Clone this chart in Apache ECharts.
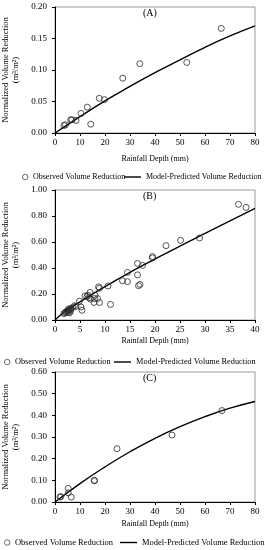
<!DOCTYPE html>
<html>
<head>
<meta charset="utf-8">
<script src="https://cdn.jsdelivr.net/npm/echarts@6/dist/echarts.min.js"></script>
<style>
html,body{margin:0;padding:0;background:#fff;}
#chart{width:265px;height:550px;}
</style>
</head>
<body>
<div id="chart"></div>
<script>
// ---- Data ----
const panelLabels = ['(A)', '(B)', '(C)'];
const obsName = 'Observed Volume Reduction';
const modelName = 'Model-Predicted Volume Reduction';
const xTitle = 'Rainfall Depth (mm)';
const yTitle = 'Normalized Volume Reduction\n(m³/m²)';

// Panel A
const obsA = [[3.6,0.012],[4.2,0.013],[6.3,0.021],[6.8,0.021],[8.4,0.020],[10.4,0.031],[12.9,0.041],
  [14.3,0.014],[17.7,0.055],[19.8,0.053],[27.1,0.087],[33.9,0.110],[52.7,0.112],[66.5,0.166]];
const modelAx = [0,10,20,30,40,50,60,70,80];
const modelAy = [0,0.026,0.051,0.074,0.096,0.116,0.136,0.154,0.170];

// Panel B
const obsB = [[1.8,0.050],[2.0,0.055],[2.2,0.060],[2.3,0.066],[2.5,0.070],[2.6,0.058],[2.7,0.085],
  [2.8,0.075],[3.0,0.080],[3.1,0.068],[3.2,0.090],[3.5,0.095],[2.9,0.055],[3.9,0.110],[4.2,0.105],
  [4.9,0.145],[5.2,0.100],[5.4,0.075],[6.0,0.185],[6.4,0.180],[6.6,0.190],[7.0,0.212],[7.1,0.160],
  [6.8,0.172],[7.8,0.135],[7.9,0.165],[8.0,0.190],[8.5,0.165],[8.7,0.255],[8.9,0.245],[8.9,0.135],
  [10.6,0.262],[11.1,0.120],[13.5,0.302],[14.5,0.366],[14.5,0.295],[16.5,0.435],[16.5,0.347],
  [16.7,0.264],[17.0,0.274],[17.5,0.420],[19.5,0.488],[19.5,0.478],[22.2,0.572],[25.1,0.613],
  [28.9,0.631],[36.7,0.890],[38.2,0.866]];
const modelBx = [0,1,2,5,10,15,20,25,30,35,40];
const modelBy = [0,0.035,0.064,0.140,0.257,0.366,0.469,0.569,0.666,0.763,0.858];

// Panel C
const obsC = [[2.0,0.023],[2.3,0.025],[5.3,0.063],[5.3,0.042],[6.5,0.023],[15.7,0.100],[15.8,0.098],
  [24.8,0.246],[46.8,0.309],[66.8,0.422]];
const modelCx = [0,10,20,30,40,50,60,70,80];
const modelCy = [0,0.085,0.162,0.232,0.294,0.348,0.394,0.433,0.464];

// Axis ranges / ticks
const xMax = [80, 40, 80];
const xStep = [10, 5, 10];
const yMax = [0.20, 1.00, 0.60];
const yStep = [0.05, 0.20, 0.10];

// ---- Layout ----
const FONT = '"Liberation Serif", "Times New Roman", serif';
const grids = [
  {left:55, top:7, width:200, height:126},
  {left:55, top:190, width:200, height:130},
  {left:55, top:372, width:200, height:130}
];
const xNameGap = [22, 17, 18];
const legendTop = [173, 358, 538];
const legendFont = [8, 8.3, 8.5];
const legendObsLeft = [22, 4, 4];
const legendModelLeft = [124, 114, 120];

const obsSets = [obsA, obsB, obsC];
const modelSets = [[modelAx, modelAy],[modelBx, modelBy],[modelCx, modelCy]];

const option = {
  backgroundColor:'#fff',
  animation:false,
  textStyle:{fontFamily:FONT, color:'#000'},
  title:[], grid:[], xAxis:[], yAxis:[], legend:[], series:[]
};

for (let i=0;i<3;i++){
  const g = grids[i];
  option.grid.push({left:g.left, top:g.top, width:g.width, height:g.height,
    show:true, borderColor:'#9a9a9a', borderWidth:1, containLabel:false, outerBoundsMode:'none'});
  option.title.push({text:panelLabels[i], left:g.left+88, top:g.top+1, padding:0,
    textStyle:{fontFamily:FONT, fontSize:10, fontWeight:'normal', color:'#000'}});
  option.xAxis.push({type:'value', gridIndex:i, min:0, max:xMax[i], interval:xStep[i],
    name:xTitle, nameLocation:'middle', nameGap:xNameGap[i],
    nameTextStyle:{fontFamily:FONT, fontSize:8, color:'#000'},
    axisLine:{show:true, onZero:false, lineStyle:{color:'#000', width:1}},
    axisTick:{show:true, length:3, lineStyle:{color:'#000'}},
    axisLabel:{fontFamily:FONT, fontSize:9, color:'#000', margin:5},
    splitLine:{show:false}});
  option.yAxis.push({type:'value', gridIndex:i, min:0, max:yMax[i], interval:yStep[i],
    name:yTitle, nameLocation:'middle', nameGap:26,
    nameTextStyle:{fontFamily:FONT, fontSize:8.5, color:'#000', lineHeight:10},
    axisLine:{show:true, onZero:false, lineStyle:{color:'#000', width:1}},
    axisTick:{show:true, length:3, lineStyle:{color:'#000'}},
    axisLabel:{fontFamily:FONT, fontSize:9, color:'#000', margin:8,
      formatter:function(v){return v.toFixed(2);}},
    splitLine:{show:false}});
  option.series.push({type:'scatter', name:obsName, xAxisIndex:i, yAxisIndex:i,
    symbol:'circle', symbolSize:6,
    itemStyle:{color:'rgba(255,255,255,0)', borderColor:'#2a2a2a', borderWidth:1},
    data:obsSets[i], z:3});
  const mx = modelSets[i][0], my = modelSets[i][1];
  option.series.push({type:'line', name:modelName, xAxisIndex:i, yAxisIndex:i,
    symbol:'none', smooth:true, lineStyle:{color:'#000', width:1.4},
    itemStyle:{color:'#000'},
    data:mx.map((x,k)=>[x,my[k]]), z:2});
  option.legend.push({data:[{name:obsName, icon:'circle'}], left:legendObsLeft[i], top:legendTop[i],
    itemWidth:5.5, itemHeight:5.5, itemGap:0, padding:0, selectedMode:false,
    itemStyle:{color:'#fff', borderColor:'#333', borderWidth:0.9},
    textStyle:{fontFamily:FONT, fontSize:legendFont[i], color:'#000'}});
  option.legend.push({data:[{name:modelName, icon:'rect'}], left:legendModelLeft[i], top:legendTop[i],
    itemWidth:17, itemHeight:1.4, itemGap:0, padding:0, selectedMode:false,
    itemStyle:{color:'#000'},
    textStyle:{fontFamily:FONT, fontSize:legendFont[i], color:'#000'}});
}

const chart = echarts.init(document.getElementById('chart'), null, {renderer:'canvas'});
chart.setOption(option);
</script>
</body>
</html>
